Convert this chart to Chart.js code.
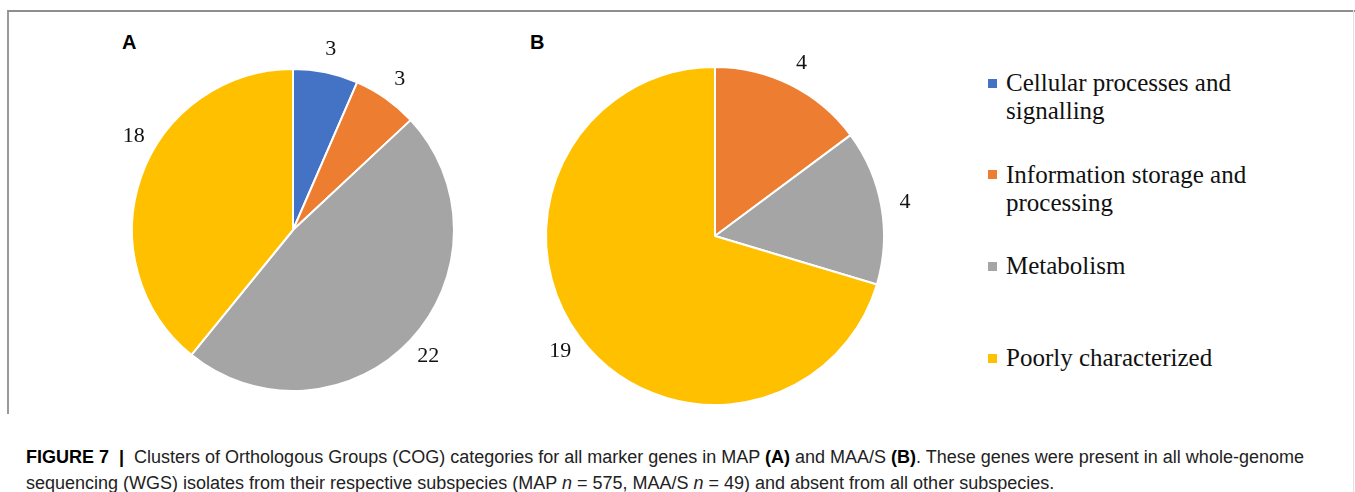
<!DOCTYPE html>
<html>
<head>
<meta charset="utf-8">
<script src="https://cdn.jsdelivr.net/npm/chart.js@4.4.1/dist/chart.umd.min.js"></script>
<style>
  body { margin: 0; background: #fff; width: 1355px; height: 492px; position: relative; overflow: hidden; }
  .frame { position: absolute; left: 7px; top: 10px; width: 1346px; height: 402px;
           border-top: 2px solid #8e8e8e; border-left: 2px solid #9a9a9a; }
  .rightline { position: absolute; left: 1353px; top: 10px; width: 1px; height: 482px; background: #e2e2e2; }
  .panel { position: absolute; font: bold 20px "Liberation Sans", Arial, sans-serif; color: #000; }
  canvas { position: absolute; }
  #legend { position: absolute; left: 988px; top: 69px; width: 280px;
            font: 25px "Liberation Serif", "Times New Roman", serif; color: #111; }
  .item { position: relative; height: 91.7px; padding-left: 18px; line-height: 28px; width: 250px; }
  .item .sw { position: absolute; left: 0; top: 9.5px; width: 9px; height: 9px; }
  .caption { position: absolute; left: 26px; top: 444px; width: 1320px;
             font: 18px "Liberation Sans", Arial, sans-serif; line-height: 26px; color: #222; white-space: nowrap; }
  .caption b { color: #000; }
</style>
</head>
<body>
<div class="frame"></div>
<div class="rightline"></div>
<div class="panel" style="left:122px; top:31px;">A</div>
<div class="panel" style="left:530px; top:31px;">B</div>
<canvas id="pieA" width="400" height="400" style="left:93px; top:30px;"></canvas>
<canvas id="pieB" width="420" height="400" style="left:505px; top:36px;"></canvas>
<div id="legend"></div>
<div class="caption">
  <b>FIGURE 7 &nbsp;|&nbsp;</b> Clusters of Orthologous Groups (COG) categories for all marker genes in MAP <b>(A)</b> and MAA/S <b>(B)</b>. These genes were present in all whole-genome<br>
  sequencing (WGS) isolates from their respective subspecies (MAP <i>n</i> = 575, MAA/S <i>n</i> = 49) and absent from all other subspecies.
</div>

<script>
/* ---------------- DATA ---------------- */
const categories = [
    "Cellular processes and signalling",
    "Information storage and processing",
    "Metabolism",
    "Poorly characterized"
];
const mapCounts = [3, 3, 22, 18];   // panel A
const maaCounts = [0, 4, 4, 19];    // panel B
const colors = ["#4472C4", "#ED7D31", "#A5A5A5", "#FFC000"];

/* ---------------- VALUE LABELS ---------------- */
// draws each slice value just outside the pie, on the slice's middle angle
const outsideLabels = {
    id: "outsideLabels",
    afterDatasetsDraw(chart, args, opts) {
        const ctx = chart.ctx;
        const meta = chart.getDatasetMeta(0);
        const values = chart.data.datasets[0].data;
        const shifts = opts.shift || [];
        ctx.save();
        ctx.font = "22px 'Liberation Serif', 'Times New Roman', serif";
        ctx.fillStyle = "#111";
        ctx.textAlign = "center";
        ctx.textBaseline = "middle";
        meta.data.forEach((arc, i) => {
            if (!values[i]) return;
            const p = arc.getProps(["x", "y", "startAngle", "endAngle", "outerRadius"], true);
            const mid = (p.startAngle + p.endAngle) / 2 + (shifts[i] || 0) * Math.PI / 180;
            const r = p.outerRadius + opts.offset;
            ctx.fillText(String(values[i]), p.x + Math.cos(mid) * r, p.y + Math.sin(mid) * r);
        });
        ctx.restore();
    }
};

function makePie(id, counts, radius, shift) {
    return new Chart(document.getElementById(id), {
        type: "pie",
        data: {
            labels: categories,
            datasets: [{
                data: counts,
                backgroundColor: colors,
                borderColor: "#fff",
                borderWidth: 2,
                radius: radius
            }]
        },
        options: {
            responsive: false,
            animation: false,
            events: [],
            plugins: {
                legend: { display: false },
                tooltip: { enabled: false },
                outsideLabels: { offset: 24, shift: shift }
            }
        },
        plugins: [outsideLabels]
    });
}

makePie("pieA", mapCounts, 161, [0, 0, 0, 11]);
makePie("pieB", maaCounts, 169, [0, 0, 0, 0]);

/* ---------------- LEGEND ---------------- */
const legend = document.getElementById("legend");
categories.forEach((name, i) => {
    const item = document.createElement("div");
    item.className = "item";
    item.innerHTML = '<span class="sw" style="background:' + colors[i] + '"></span>' + name;
    legend.appendChild(item);
});
</script>
</body>
</html>
